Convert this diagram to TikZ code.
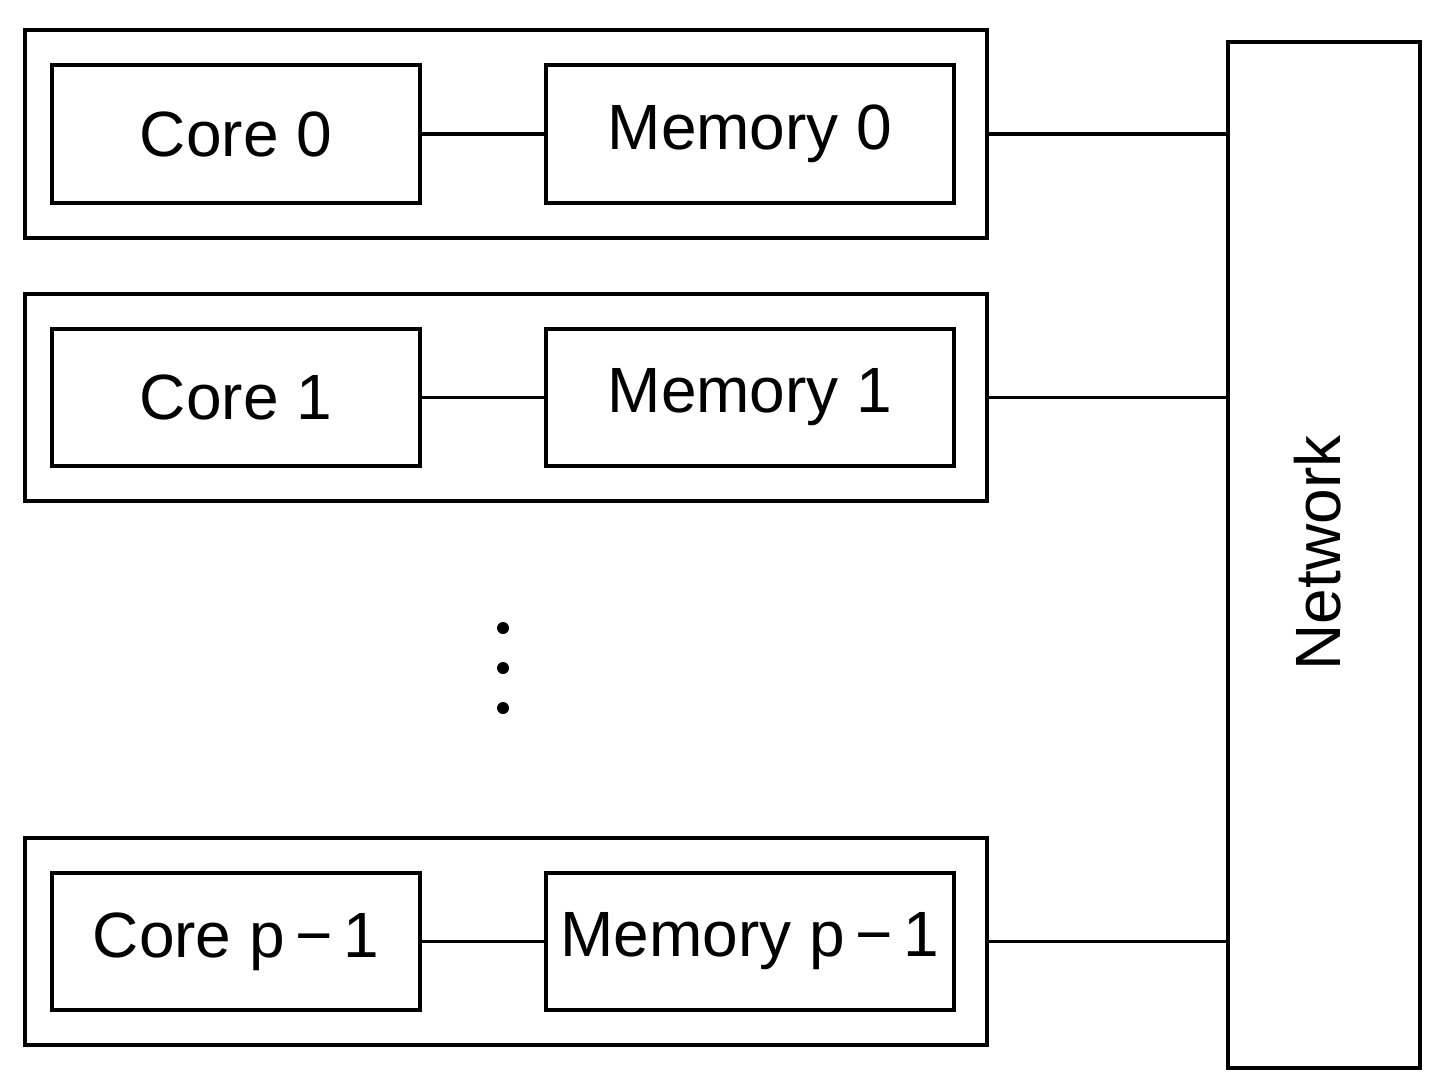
\documentclass[tikz,border=0pt]{standalone}
\usepackage{fontspec}
\setmainfont{Liberation Sans}
\begin{document}
\begin{tikzpicture}[x=1pt,y=-1pt,
  box/.style={draw,line width=3.5pt,inner sep=0pt,font=\fontsize{64}{70}\selectfont},
  ln/.style={line width=3.5pt},
  dot/.style={circle,fill,inner sep=0pt,minimum size=12pt}]
\useasboundingbox (0,0) rectangle (1440,1071);
\foreach \i/\t/\b/\ct/\mt in {0/30/238/Core 0/Memory 0, 1/294/501/Core 1/Memory 1, p/838/1045/Core p\,−\,1/Memory p\,−\,1}{
  \node[box,minimum width=962pt,minimum height={\b-\t}] (o\i) at (506,{(\t+\b)/2}) {};
  \node[box,minimum width=368pt,minimum height={\b-\t-70}] (c\i) at (236,{(\t+\b)/2}) {\ct};
  \node[box,minimum width=408pt,minimum height={\b-\t-70}] (m\i) at (750,{(\t+\b)/2}) {\mt};
  \draw[ln] (c\i) -- (m\i);
}
\node[box,minimum width=192pt,minimum height=1026pt] (net) at (1324,555) {};
\node[font=\fontsize{64}{70}\selectfont,rotate=90] (nt) at (1318,553) {Network};
\foreach \i in {0,1,p}{\draw[ln] (o\i.east) -- (o\i.east -| net.west);}
\node[dot] (d1) at (503,628) {};
\node[dot] (d2) at (503,668) {};
\node[dot] (d3) at (503,708) {};
\end{tikzpicture}
\end{document}
